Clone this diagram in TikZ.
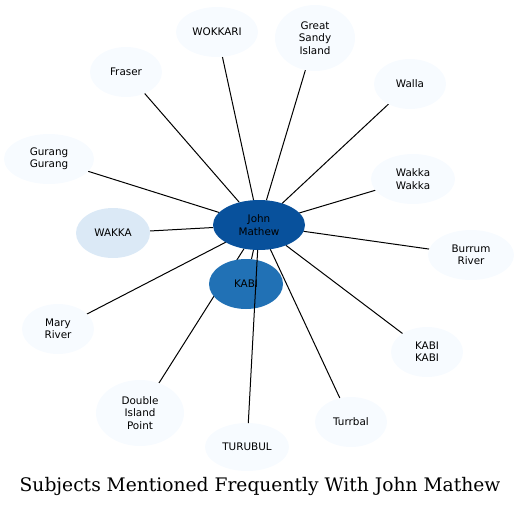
\documentclass[tikz,border=0pt]{standalone}
\usepackage{fontspec}
\setmainfont{DejaVu Sans}
\newfontfamily\titlefont{DejaVu Serif}
\usetikzlibrary{backgrounds,shapes.geometric}
\definecolor{cdark}{HTML}{08519C}
\definecolor{cmid}{HTML}{2171B5}
\definecolor{clight}{HTML}{DBE9F6}
\definecolor{cpale}{HTML}{F7FBFF}
\tikzset{
  ell/.style={ellipse, inner sep=0pt, outer sep=0pt, align=center, font=\fontsize{7.8}{9.2}\selectfont, text=black},
  pale/.style={ell, fill=cpale},
  link/.style={draw=black, line width=0.75pt},
}
\newcommand{\enode}[6]{\node[#1, minimum width=#4*0.75pt, minimum height=#5*0.75pt] (#2) at #3 {#6};}
\begin{document}
\begin{tikzpicture}[x=0.75pt,y=-0.75pt]
\useasboundingbox (0,0) rectangle (520,507);
\enode{ell,fill=cdark}{jm}{(259,225)}{92}{50}{John\\Mathew}
\enode{ell,fill=cmid}{kabi}{(246,284)}{74}{50}{KABI}
\enode{ell,fill=clight}{wakka}{(113,233)}{74}{50}{WAKKA}
\enode{pale}{gurang}{(49,159)}{90}{50}{Gurang\\Gurang}
\enode{pale}{fraser}{(126,72)}{72}{50}{Fraser}
\enode{pale}{wokkari}{(217,32)}{82}{50}{WOKKARI}
\enode{pale}{great}{(315,38)}{80}{66}{Great\\Sandy\\Island}
\enode{pale}{walla}{(410,84)}{72}{50}{Walla}
\enode{pale}{wakkaw}{(413,179)}{84}{50}{Wakka\\Wakka}
\enode{pale}{burrum}{(471,255)}{86}{50}{Burrum\\River}
\enode{pale}{kabikabi}{(427,352)}{72}{50}{KABI\\KABI}
\enode{pale}{turrbal}{(351,422)}{72}{50}{Turrbal}
\enode{pale}{turubul}{(247,447)}{84}{48}{TURUBUL}
\enode{pale}{double}{(140,413)}{88}{66}{Double\\Island\\Point}
\enode{pale}{mary}{(58,329)}{72}{50}{Mary\\River}
\begin{scope}[on background layer]
\foreach \t in {kabi,wakka,gurang,fraser,wokkari,great,walla,wakkaw,burrum,kabikabi,turrbal,double,mary}
  \draw[link] (jm) -- (\t);
\end{scope}
\draw[link] (jm) -- (turubul);
\node[font=\titlefont\fontsize{14}{16}\selectfont, inner sep=0pt] (title) at (260,486) {Subjects Mentioned Frequently With John Mathew};
\end{tikzpicture}
\end{document}
